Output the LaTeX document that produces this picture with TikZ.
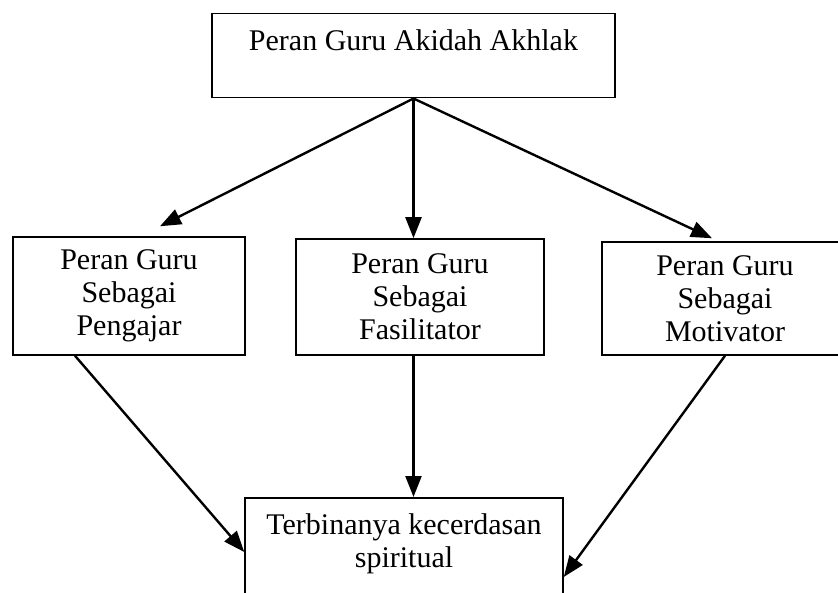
\documentclass[tikz,border=0pt]{standalone}
\usepackage{fontspec}
\setmainfont{Liberation Serif}
\usetikzlibrary{arrows.meta, positioning, calc}
\tikzset{
    rolebox/.style={rectangle, draw=black, line width=1.5pt, minimum width=232pt, minimum height=118pt, text centered, align=center, inner sep=0pt, font=\fontsize{30}{33}\selectfont},
    arrow/.style={line width=2.4pt, -{Triangle[length=21pt, width=16pt]}}
}

\begin{document}
\begin{tikzpicture}[x=1pt, y=-1pt]
        % Page frame
        \useasboundingbox (0,0) rectangle (838,593);
        \clip (0,0) rectangle (838,593);

        % Main role
        \node (peran) [rolebox, minimum width=403pt, minimum height=0pt, text height=37pt, text depth=47pt, anchor=north] at (413.5,13) {Peran Guru Akidah Akhlak};

        % Three roles
        \node (pengajar) [rolebox] at (129,296) {Peran Guru\\Sebagai\\Pengajar};
        \node (fasilitator) [rolebox, minimum width=248pt, minimum height=116pt] at (420,297) {Peran Guru\\Sebagai\\Fasilitator};
        \node (motivator) [rolebox, minimum width=246pt, minimum height=113pt] at (725,298.5) {Peran Guru\\Sebagai\\Motivator};

        % Result
        \node (hasil) [rolebox, minimum width=318pt, minimum height=0pt, text height=37pt, text depth=120pt, anchor=north] at (404,497) {\parbox[t]{310pt}{\centering Terbinanya kecerdasan\\spiritual}};

        % Connections
        \draw[arrow] (peran.south) -- ([xshift=31pt, yshift=10pt]pengajar.north);
        \draw[arrow] (peran.south) -- (peran.south |- fasilitator.north);
        \draw[arrow] (peran.south) -- ([xshift=-13pt, yshift=3pt]motivator.north);

        \draw[arrow] ([xshift=-54pt]pengajar.south) -- ([yshift=-55pt]hasil.north west);
        \draw[arrow] (peran.south |- fasilitator.south) -- (peran.south |- hasil.north);
        \draw[arrow] (motivator.south) -- ([yshift=-80pt]hasil.north east);
    \end{tikzpicture}
\end{document}
